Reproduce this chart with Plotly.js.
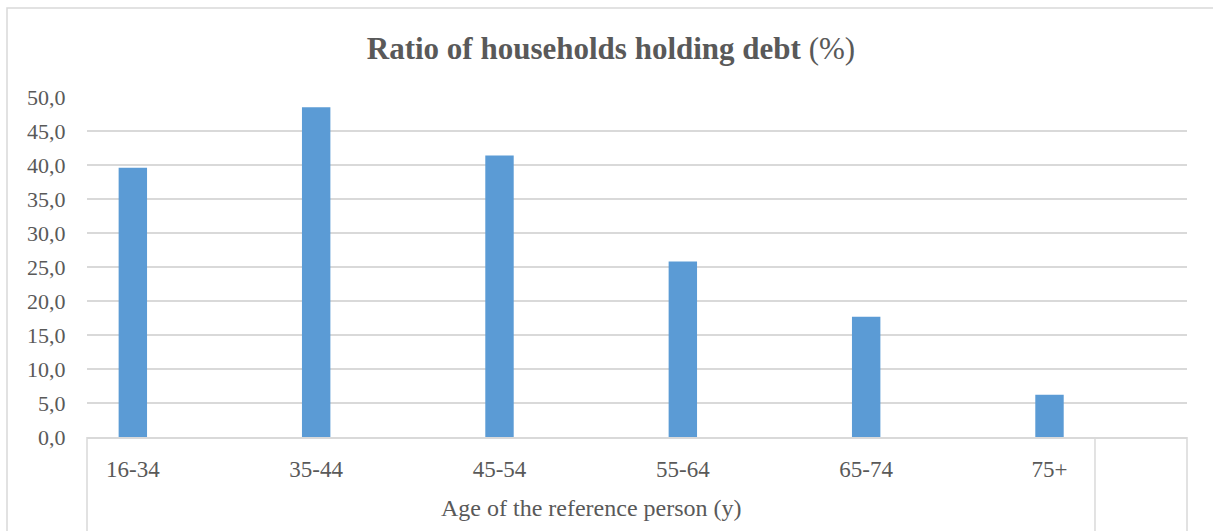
<!DOCTYPE html>
<html>
<head>
<meta charset="utf-8">
<script src="https://cdn.plot.ly/plotly-3.0.1.min.js"></script>
<style>html,body{margin:0;padding:0;background:#fff;}#chart{width:1213px;height:531px;}</style>
</head>
<body>
<div id="chart"></div>
<script>
var categories = ["16-34", "35-44", "45-54", "55-64", "65-74", "75+"];
var debtRatio = [39.6, 48.5, 41.4, 25.8, 17.7, 6.2];
var yTickValues = [0, 5, 10, 15, 20, 25, 30, 35, 40, 45, 50];
var yTickLabels = ["0,0", "5,0", "10,0", "15,0", "20,0", "25,0", "30,0", "35,0", "40,0", "45,0", "50,0"];

var serif = '"Liberation Serif", "Times New Roman", serif';
var grey = '#595959';
var lineGrey = '#d9d9d9';

var trace = {
  type: 'bar',
  x: categories,
  y: debtRatio,
  width: 0.155,
  marker: {color: '#5b9bd5'},
  hoverinfo: 'none'
};

var layout = {
  width: 1213,
  height: 531,
  margin: {l: 87, r: 26, t: 97, b: 94},
  paper_bgcolor: '#ffffff',
  plot_bgcolor: '#ffffff',
  showlegend: false,
  title: {
    text: '<b>Ratio of households holding debt</b> (%)',
    font: {family: serif, size: 31, color: grey},
    xref: 'container', x: 0.5037,
    yref: 'container', y: 0.9096, yanchor: 'middle'
  },
  xaxis: {
    type: 'category',
    range: [-0.25, 5.75],
    showgrid: false,
    showline: true,
    linecolor: lineGrey,
    linewidth: 1.5,
    ticks: 'outside',
    ticklen: 11,
    tickcolor: 'rgba(0,0,0,0)',
    tickfont: {family: serif, size: 23, color: grey},
    fixedrange: true
  },
  yaxis: {
    range: [0, 50],
    tickvals: yTickValues,
    ticktext: yTickLabels,
    showgrid: true,
    gridcolor: lineGrey,
    gridwidth: 1.5,
    zeroline: false,
    showline: false,
    ticks: 'outside',
    ticklen: 16,
    tickcolor: 'rgba(0,0,0,0)',
    tickfont: {family: serif, size: 22, color: grey},
    fixedrange: true
  },
  shapes: [
    {type: 'rect', xref: 'paper', yref: 'paper', x0: -0.07273, x1: 1.03, y0: -0.4, y1: 1.2618,
     line: {color: lineGrey, width: 1.5}, fillcolor: 'rgba(0,0,0,0)', layer: 'below'},
    {type: 'line', xref: 'paper', yref: 'paper', x0: 0, x1: 0, y0: 0, y1: -0.4,
     line: {color: lineGrey, width: 1.5}},
    {type: 'line', xref: 'paper', yref: 'paper', x0: 0.91636, x1: 0.91636, y0: 0, y1: -0.4,
     line: {color: lineGrey, width: 1.5}},
    {type: 'line', xref: 'paper', yref: 'paper', x0: 1, x1: 1, y0: 0, y1: -0.4,
     line: {color: lineGrey, width: 1.5}}
  ],
  annotations: [
    {text: 'Age of the reference person (y)', xref: 'paper', yref: 'paper',
     x: 0.4582, y: -0.2088, xanchor: 'center', yanchor: 'middle', showarrow: false,
     font: {family: serif, size: 24, color: grey}}
  ]
};

Plotly.newPlot('chart', [trace], layout, {staticPlot: true, displayModeBar: false});
</script>
</body>
</html>
